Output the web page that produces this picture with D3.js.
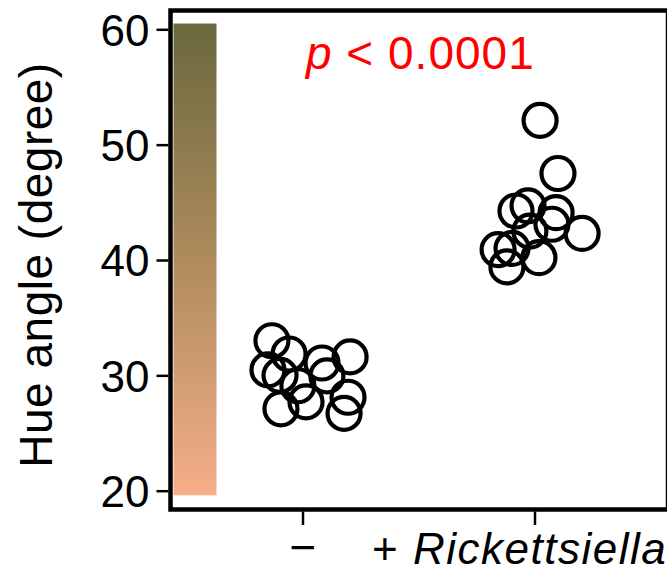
<!DOCTYPE html>
<html><head><meta charset="utf-8">
<script src="https://cdn.jsdelivr.net/npm/d3@7"></script>
<style>html,body{margin:0;padding:0;background:#fff;overflow:hidden}</style>
</head><body><svg id="c" width="667" height="572"></svg>
<script>
// ---- data ----
const categories = ["\u2212", "+"];
const categoryNames = ["\u2212", "Rickettsiella"];
const minusValues = [33.0, 31.85, 30.47, 30.0, 31.07, 31.6, 29.95, 27.1, 27.7, 26.7, 28.1, 29.1];
const minusJitter = [-0.134, -0.060, -0.151, -0.099, 0.082, 0.203, 0.103, -0.095, 0.013, 0.177, 0.194, -0.022];
const plusValues = [52.1, 47.5, 44.25, 44.7, 44.1, 42.3, 43.1, 40.9, 39.4, 41.0, 40.2, 42.5];
const plusJitter = [0.022, 0.099, -0.082, -0.030, 0.091, 0.203, 0.073, -0.159, -0.121, -0.099, 0.017, -0.022];
const yTicks = [20, 30, 40, 50, 60];
const yLabel = "Hue angle (degree)";
const pText = ["p", " < 0.0001"];
const gradientExtent = [19.6, 60.5];
const gradientColors = ["#f5ae89", "#ae8b5d", "#6a693d"];

// ---- drawing ----
const FONT = "Liberation Sans, Arial, Helvetica, sans-serif";
const svg = d3.select("#c");
const y = d3.scaleLinear().domain([20, 60]).range([490.7, 29.3]);
const x = d3.scaleLinear().domain([0, 1]).range([303, 535]);

const frame = {left: 170.5, top: 10.5, right: 668, bottom: 509.5};

// gradient
const defs = svg.append("defs");
const lg = defs.append("linearGradient").attr("id", "hg")
  .attr("x1", 0).attr("x2", 0).attr("y1", 1).attr("y2", 0);
gradientColors.forEach((c, i) => lg.append("stop")
  .attr("offset", i / (gradientColors.length - 1)).attr("stop-color", c));
svg.append("rect").attr("x", 173.5).attr("width", 43)
  .attr("y", y(gradientExtent[1])).attr("height", y(gradientExtent[0]) - y(gradientExtent[1]))
  .attr("fill", "url(#hg)");

// frame
svg.append("rect").attr("x", frame.left).attr("y", frame.top)
  .attr("width", frame.right - frame.left).attr("height", frame.bottom - frame.top)
  .attr("fill", "none").attr("stroke", "#000").attr("stroke-width", 4.5);

// y axis
const yAxis = d3.axisLeft(y).tickValues(yTicks).tickSize(12).tickPadding(7);
const ga = svg.append("g").attr("transform", `translate(${frame.left - 2},0)`).call(yAxis);
ga.select(".domain").remove();
ga.selectAll(".tick line").attr("stroke-width", 2.5);
ga.selectAll(".tick text").attr("font-family", FONT)
  .attr("font-size", 44).attr("fill", "#000").attr("dy", "0.36em");

// x axis
const gx = svg.append("g");
categories.forEach((c, i) => {
  gx.append("line").attr("x1", x(i)).attr("x2", x(i)).attr("y1", frame.bottom + 2).attr("y2", 525)
    .attr("stroke", "#000").attr("stroke-width", 2.5);
});
gx.append("text").attr("x", x(0)).attr("y", 563).attr("text-anchor", "middle")
  .attr("font-family", FONT).attr("font-size", 46)
  .text(categories[0]);
const t2 = gx.append("text").attr("x", x(1) - 163).attr("y", 564)
  .attr("font-family", FONT).attr("font-size", 44).attr("letter-spacing", 1.5);
t2.append("tspan").text(categories[1] + " ");
t2.append("tspan").attr("font-style", "italic").text(categoryNames[1]);

// y label
svg.append("text").attr("transform", `translate(52,265) rotate(-90)`)
  .attr("text-anchor", "middle").attr("font-family", FONT)
  .attr("font-size", 46).attr("letter-spacing", 0.5).text(yLabel);

// p value
const pt = svg.append("text").attr("x", 306).attr("y", 69).attr("fill", "#ff0000")
  .attr("font-family", FONT).attr("font-size", 46).attr("letter-spacing", 1);
pt.append("tspan").attr("font-style", "italic").text(pText[0]);
pt.append("tspan").text(pText[1]);

// points
const pts = [];
minusValues.forEach((v, i) => pts.push({c: 0, v, j: minusJitter[i]}));
plusValues.forEach((v, i) => pts.push({c: 1, v, j: plusJitter[i]}));
svg.append("g").selectAll("circle").data(pts).join("circle")
  .attr("cx", d => x(d.c + d.j)).attr("cy", d => y(d.v)).attr("r", 16.5)
  .attr("fill", "none").attr("stroke", "#000").attr("stroke-width", 4.2);
</script></body></html>
